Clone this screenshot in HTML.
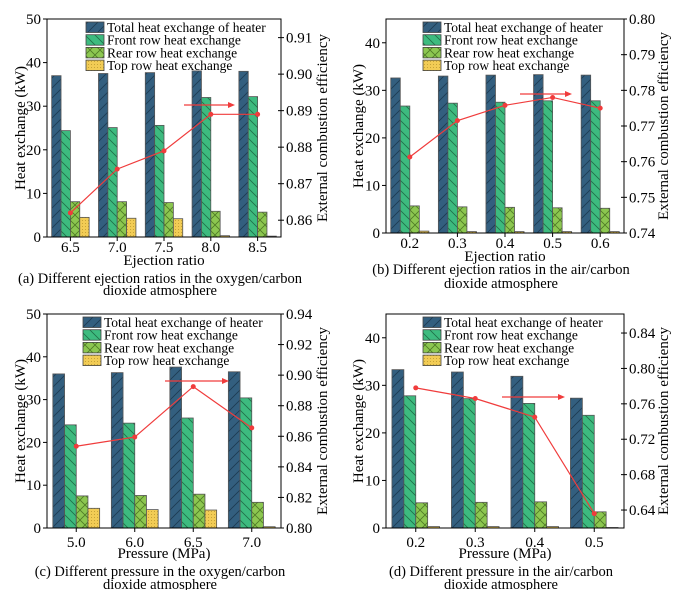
<!DOCTYPE html>
<html><head><meta charset="utf-8">
<style>
html,body{margin:0;padding:0;background:#fff;}
svg{display:block;}
svg text{font-family:"Liberation Serif","DejaVu Serif",serif;}
</style></head>
<body>
<svg id="root" width="690" height="590" viewBox="0 0 690 590" xmlns="http://www.w3.org/2000/svg" font-family="Liberation Serif, serif">
<defs>
<pattern id="hTotal" patternUnits="userSpaceOnUse" width="10" height="10"><rect width="10" height="10" fill="#335f7f"/><path d="M0,10 L10,0 M-2,2 L2,-2 M8,12 L12,8" stroke="#1d3a52" stroke-width="0.8"/></pattern>
<pattern id="hFront" patternUnits="userSpaceOnUse" width="10" height="10"><rect width="10" height="10" fill="#3dbb7f"/><path d="M0,0 L10,10 M-2,8 L2,12 M8,-2 L12,2" stroke="#1f6e48" stroke-width="0.8"/></pattern>
<pattern id="hRear" patternUnits="userSpaceOnUse" width="10" height="10"><rect width="10" height="10" fill="#8cc750"/><path d="M0,0 L10,10 M0,10 L10,0" stroke="#4f7a25" stroke-width="0.8"/></pattern>
<pattern id="hTop" patternUnits="userSpaceOnUse" width="3" height="3"><rect width="3" height="3" fill="#f2cc55"/><circle cx="1.5" cy="1.5" r="0.5" fill="#b8952e"/></pattern>
</defs>
</svg>
<script>
// Panel (a)
const catsA = ["6.5","7.0","7.5","8.0","8.5"];
const totalA = [37.0,37.5,37.7,38.1,38.0];
const frontA = [24.4,25.1,25.6,32.0,32.2];
const rearA = [8.1,8.1,7.9,5.9,5.7];
const topA = [4.5,4.3,4.2,0.3,0.2];
const effA = [0.862,0.874,0.879,0.889,0.889];
const leftTicksA = [0,10,20,30,40,50];
const rightTicksA = ["0.86","0.87","0.88","0.89","0.90","0.91"];
// Panel (b)
const catsB = ["0.2","0.3","0.4","0.5","0.6"];
const totalB = [32.6,33.0,33.2,33.3,33.2];
const frontB = [26.7,27.3,27.5,27.8,27.8];
const rearB = [5.7,5.5,5.4,5.3,5.2];
const topB = [0.4,0.3,0.3,0.3,0.3];
const effB = [0.7613,0.7715,0.7758,0.778,0.775];
const leftTicksB = [0,10,20,30,40];
const rightTicksB = ["0.74","0.75","0.76","0.77","0.78","0.79","0.80"];
// Panel (c)
const catsC = ["5.0","6.0","6.5","7.0"];
const totalC = [36.0,36.3,37.6,36.5];
const frontC = [24.1,24.5,25.7,30.4];
const rearC = [7.5,7.6,7.9,6.0];
const topC = [4.6,4.3,4.2,0.3];
const effC = [0.8535,0.8595,0.8925,0.8655];
const leftTicksC = [0,10,20,30,40,50];
const rightTicksC = ["0.80","0.82","0.84","0.86","0.88","0.90","0.92","0.94"];
// Panel (d)
const catsD = ["0.2","0.3","0.4","0.5"];
const totalD = [33.3,32.8,31.9,27.3];
const frontD = [27.8,27.2,26.2,23.7];
const rearD = [5.3,5.4,5.5,3.4];
const topD = [0.3,0.3,0.3,0.1];
const effD = [0.778,0.766,0.745,0.636];
const leftTicksD = [0,10,20,30,40];
const rightTicksD = ["0.64","0.68","0.72","0.76","0.80","0.84"];

const legendLabels = ["Total heat exchange of heater","Front row heat exchange","Rear row heat exchange","Top row heat exchange"];
const NS = "http://www.w3.org/2000/svg";
const FF = '"Liberation Serif","DejaVu Serif",serif';
const root = document.getElementById('root');
function mk(tag, attrs, parent){const e=document.createElementNS(NS,tag);for(const k in attrs)e.setAttribute(k,attrs[k]);if(tag==='text')e.style.fontFamily=FF;(parent||root).appendChild(e);return e;}

const panels = [
 {id:'a',L:47,R:281,T:19,B:237,ymax:50,rmin:0.8554,rmax:0.9151,cats:catsA,series:[totalA,frontA,rearA,topA],eff:effA,lt:leftTicksA,rt:rightTicksA,xt:"Ejection ratio",cap:["(a) Different ejection ratios in the oxygen/carbon","dioxide atmosphere"],arrow:[184,235,105],legX:86,lyl:20,ryl:322,off:[15,28,46,58]},
 {id:'b',L:386,R:624,T:19,B:233,ymax:45,rmin:0.74,rmax:0.80,cats:catsB,series:[totalB,frontB,rearB,topB],eff:effB,lt:leftTicksB,rt:rightTicksB,xt:"Ejection ratio",cap:["(b) Different ejection ratios in the air/carbon","dioxide atmosphere"],arrow:[520,572,94],legX:423,lyl:358,ryl:663,off:[15,28,41,55]},
 {id:'c',L:47,R:281,T:314,B:528,ymax:50,rmin:0.80,rmax:0.94,cats:catsC,series:[totalC,frontC,rearC,topC],eff:effC,lt:leftTicksC,rt:rightTicksC,xt:"Pressure (MPa)",cap:["(c) Different pressure in the oxygen/carbon","dioxide atmosphere"],arrow:[165,229,381],legX:83,lyl:20,ryl:322,off:[19,30,48,61]},
 {id:'d',L:386,R:624,T:314,B:528,ymax:45,rmin:0.6197,rmax:0.8615,cats:catsD,series:[totalD,frontD,rearD,topD],eff:effD,lt:leftTicksD,rt:rightTicksD,xt:"Pressure (MPa)",cap:["(d) Different pressure in the air/carbon","dioxide atmosphere"],arrow:[502,565,397],legX:423,lyl:358,ryl:663,off:[19,30,48,61]}
];
const fills = ["url(#hTotal)","url(#hFront)","url(#hRear)","url(#hTop)"];
const snames = ["total","front","rear","top"];

panels.forEach(p=>{
  const g = mk('g',{});
  
  
  const n = p.cats.length, W = p.R-p.L, step = W/n, gw = step*0.8, bw = gw/4;
  const yL = v => p.B - v/p.ymax*(p.B-p.T);
  const yR = v => p.B - (v-p.rmin)/(p.rmax-p.rmin)*(p.B-p.T);
  const xC = i => p.L + step*(i+0.5);
  p.series.forEach((s,si)=>{
    s.forEach((v,i)=>{
      const x = xC(i)-gw/2+si*bw;
      const r = mk('rect',{x:x,y:yL(v),width:bw,height:p.B-yL(v),fill:fills[si],stroke:'#555',"stroke-width":0.8},g);
      
      
    });
  });
  const fr = mk('rect',{x:p.L,y:p.T,width:W,height:p.B-p.T,fill:'none',stroke:'#000',"stroke-width":1},g);
  
  
  p.lt.forEach(v=>{
    const y=yL(v);
    mk('line',{x1:p.L-4,x2:p.L,y1:y,y2:y,stroke:'#000'},g);
    const t=mk('text',{x:p.L-6,y:y+5,"text-anchor":"end","font-size":15},g);
    t.textContent=v;
    
    
  });
  p.rt.forEach(s=>{
    const y=yR(parseFloat(s));
    mk('line',{x1:p.R-3,x2:p.R+3,y1:y,y2:y,stroke:'#000'},g);
    const t=mk('text',{x:p.R+5,y:y+5,"font-size":15},g);
    t.textContent=s;
    
    
  });
  p.cats.forEach((c,i)=>{
    const x=xC(i);
    mk('line',{x1:x,x2:x,y1:p.B,y2:p.B+4,stroke:'#000'},g);
    const t=mk('text',{x:x,y:p.B+p.off[0],"text-anchor":"middle","font-size":15},g);
    t.textContent=c;
    
    
  });
  const xt=mk('text',{x:(p.L+p.R)/2,y:p.B+p.off[1],"text-anchor":"middle","font-size":15},g);
  xt.textContent=p.xt;
  
  
  const cy=(p.T+p.B)/2;
  const ly=mk('text',{x:p.lyl,y:cy,"text-anchor":"middle","font-size":15,transform:`rotate(-90 ${p.lyl} ${cy})`,dy:5},g);
  ly.textContent="Heat exchange (kW)";
  
  
  const ry=mk('text',{x:p.ryl,y:cy,"text-anchor":"middle","font-size":15,transform:`rotate(-90 ${p.ryl} ${cy})`,dy:5},g);
  ry.textContent="External combustion efficiency";
  
  
  const pts=p.eff.map((v,i)=>xC(i)+','+yR(v)).join(' ');
  const pl=mk('polyline',{points:pts,fill:'none',stroke:'#f03c3c',"stroke-width":1.2},g);
  
  
  p.eff.forEach((v,i)=>{
    const c=mk('circle',{cx:xC(i),cy:yR(v),r:2.5,fill:'#f03c3c'},g);
    
    
  });
  const [ax1,ax2,ay]=p.arrow;
  const al=mk('line',{x1:ax1,x2:ax2-6,y1:ay,y2:ay,stroke:'#f03c3c',"stroke-width":1.2},g);
  
  
  mk('polygon',{points:`${ax2},${ay} ${ax2-7},${ay-3} ${ax2-7},${ay+3}`,fill:'#f03c3c'},g);
  legendLabels.forEach((lab,li)=>{
    const y=p.T+3+li*12.7;
    const sw=mk('rect',{x:p.legX,y:y,width:18,height:10.5,fill:fills[li],stroke:'#444',"stroke-width":0.8},g);
    
    
    const t=mk('text',{x:p.legX+21,y:y+10,"font-size":13.5},g);
    t.textContent=lab;
    
    
  });
  p.cap.forEach((s,ci)=>{
    const t=mk('text',{x:(p.L+p.R)/2-4,y:p.B+p.off[2+ci],"text-anchor":"middle","font-size":14.5},g);
    t.textContent=s;
    
    
  });
});
</script>
</body></html>
